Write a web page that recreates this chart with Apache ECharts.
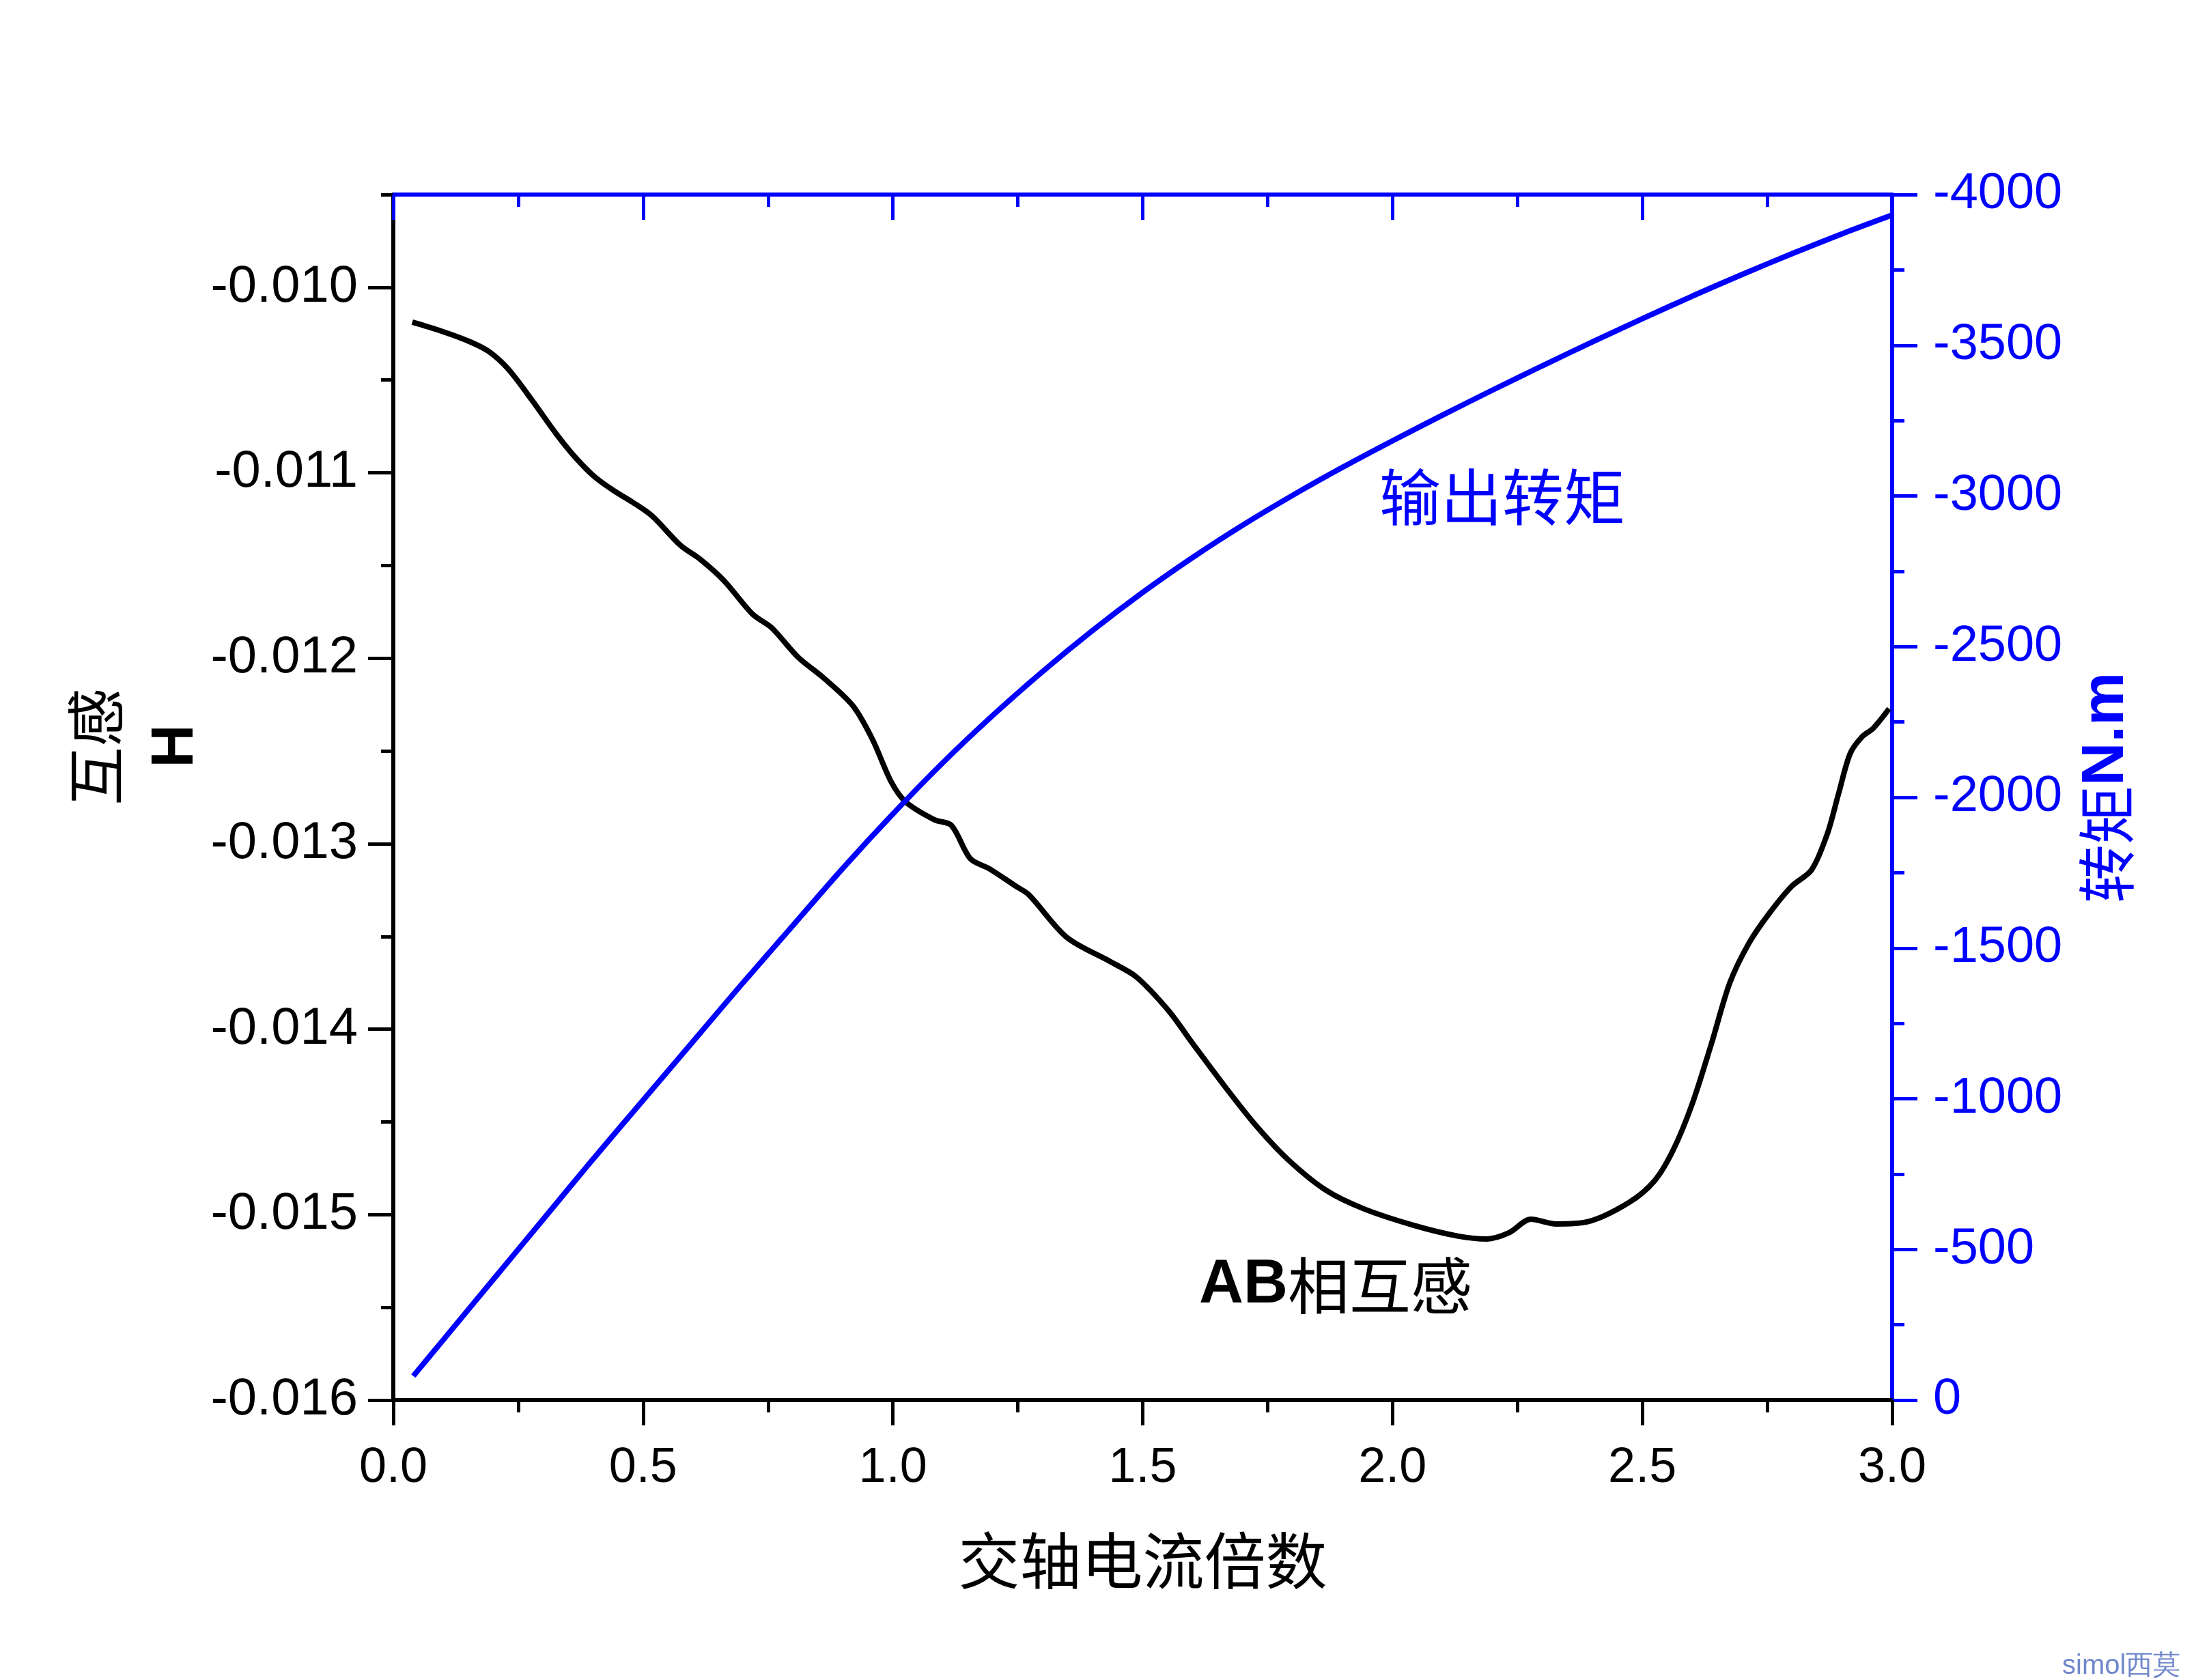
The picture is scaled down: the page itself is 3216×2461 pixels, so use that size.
<!DOCTYPE html>
<html>
<head>
<meta charset="utf-8">
<script src="https://cdn.jsdelivr.net/npm/echarts@6/dist/echarts.min.js"></script>
<style>
  html, body { margin: 0; padding: 0; background: #ffffff; }
  #chart { width: 3216px; height: 2461px; }
</style>
</head>
<body>
<div id="chart"></div>
<script>
// ---- data ----
const mutualX = [0.038, 0.096, 0.153, 0.191, 0.230, 0.278, 0.326, 0.364, 0.403, 0.441, 0.479, 0.518, 0.575, 0.614, 0.662, 0.719, 0.757, 0.810, 0.863, 0.920, 0.959, 0.997, 1.026, 1.083, 1.117, 1.155, 1.193, 1.246, 1.272, 1.348, 1.436, 1.487, 1.551, 1.601, 1.665, 1.728, 1.791, 1.867, 1.942, 2.043, 2.132, 2.189, 2.233, 2.277, 2.327, 2.391, 2.473, 2.524, 2.561, 2.599, 2.638, 2.675, 2.713, 2.752, 2.798, 2.839, 2.871, 2.893, 2.916, 2.940, 2.962, 2.994];
const mutualH = [-0.010188, -0.010236, -0.010293, -0.010346, -0.010441, -0.010610, -0.010790, -0.010916, -0.011022, -0.011096, -0.011159, -0.011233, -0.011392, -0.011466, -0.011582, -0.011762, -0.011835, -0.011994, -0.012110, -0.012257, -0.012437, -0.012669, -0.012776, -0.012871, -0.012901, -0.013081, -0.013135, -0.013229, -0.013275, -0.013505, -0.013637, -0.013718, -0.013898, -0.014081, -0.014311, -0.014524, -0.014704, -0.014869, -0.014968, -0.015058, -0.015116, -0.015131, -0.015098, -0.015025, -0.015050, -0.015038, -0.014935, -0.014819, -0.014656, -0.014409, -0.014081, -0.013751, -0.013538, -0.013383, -0.013232, -0.013140, -0.012941, -0.012728, -0.012514, -0.012423, -0.012378, -0.012272];

const torqueX = [0.04, 0.1, 0.2, 0.3, 0.4, 0.5, 0.6, 0.7, 0.8, 0.9, 1.0, 1.1, 1.2, 1.3, 1.4, 1.5, 1.6, 1.7, 1.8, 1.9, 2.0, 2.1, 2.2, 2.3, 2.4, 2.5, 2.6, 2.7, 2.8, 2.9, 3.0];
const torqueNm = [-80, -200, -400, -600, -800, -995, -1190, -1385, -1575, -1765, -1945, -2115, -2272, -2418, -2554, -2680, -2796, -2903, -3002, -3095, -3183, -3268, -3351, -3432, -3511, -3588, -3663, -3735, -3804, -3870, -3932];

const leftTicks = [-0.016, -0.015, -0.014, -0.013, -0.012, -0.011, -0.010];
const leftMinorTicks = [-0.0155, -0.0145, -0.0135, -0.0125, -0.0115, -0.0105, -0.0095];

const xTitle = '交轴电流倍数';
const leftTitleCn = '互感';
const leftTitleUnit = 'H';
const rightTitleCn = '转矩';
const rightTitleUnit = 'N.m';
const torqueLabel = '输出转矩';
const mutualLabelA = 'AB';
const mutualLabelB = '相互感';
const watermark = 'simol西莫';

// ---- chart ----
const BLUE = '#0000ff';
const BLACK = '#000000';
const NUM_FONT = '"Liberation Sans", Arial, sans-serif';
const CJK_FONT = '"Noto Sans CJK SC", sans-serif';

const chart = echarts.init(document.getElementById('chart'), null, { renderer: 'canvas' });

const mutualData = mutualX.map((x, i) => [x, mutualH[i]]);
const torqueData = torqueX.map((x, i) => [x, torqueNm[i]]);

const option = {
  backgroundColor: '#ffffff',
  animation: false,
  grid: { left: 576, right: 445, top: 285, bottom: 410, containLabel: false, outerBoundsMode: 'none' },
  xAxis: [
    {
      type: 'value', position: 'bottom', min: 0, max: 3, interval: 0.5,
      axisLine: { show: true, onZero: false, lineStyle: { color: BLACK, width: 6 } },
      axisTick: { show: true, inside: false, length: 37, lineStyle: { color: BLACK, width: 5 } },
      minorTick: { show: true, splitNumber: 2, length: 18, lineStyle: { color: BLACK, width: 5 } },
      splitLine: { show: false }, minorSplitLine: { show: false },
      axisLabel: { show: true, margin: 64, color: BLACK, fontSize: 72, fontFamily: NUM_FONT,
        formatter: v => v.toFixed(1) },
      name: xTitle, nameLocation: 'middle', nameGap: 190,
      nameTextStyle: { color: BLACK, fontSize: 90, fontFamily: CJK_FONT }
    },
    {
      type: 'value', position: 'top', min: 0, max: 3, interval: 0.5,
      axisLine: { show: true, onZero: false, lineStyle: { color: BLUE, width: 6 } },
      axisTick: { show: true, inside: true, length: 37, lineStyle: { color: BLUE, width: 5 } },
      minorTick: { show: true, splitNumber: 2, length: 18, lineStyle: { color: BLUE, width: 5 } },
      splitLine: { show: false },
      axisLabel: { show: false }
    }
  ],
  yAxis: [
    {
      type: 'value', position: 'left', min: -0.016, max: -0.0095,
      axisLine: { show: true, onZero: false, lineStyle: { color: BLACK, width: 6 } },
      axisTick: { show: true, inside: false, length: 37, customValues: leftTicks, lineStyle: { color: BLACK, width: 5 } },
      splitLine: { show: false },
      axisLabel: { show: true, customValues: leftTicks, margin: 52, color: BLACK, fontSize: 76, fontFamily: NUM_FONT,
        formatter: v => v.toFixed(3) }
    },
    {
      type: 'value', position: 'right', min: -4000, max: 0, interval: 500, inverse: true,
      axisLine: { show: true, onZero: false, lineStyle: { color: BLUE, width: 6 } },
      axisTick: { show: true, inside: false, length: 37, lineStyle: { color: BLUE, width: 5 } },
      minorTick: { show: true, splitNumber: 2, length: 18, lineStyle: { color: BLUE, width: 5 } },
      splitLine: { show: false },
      axisLabel: { show: true, margin: 60, color: BLUE, fontSize: 74, fontFamily: NUM_FONT,
        formatter: v => String(Math.round(v)) }
    },
    {
      type: 'value', position: 'left', min: -0.016, max: -0.0095,
      axisLine: { show: false },
      axisTick: { show: true, inside: false, length: 18, customValues: leftMinorTicks, lineStyle: { color: BLACK, width: 5 } },
      splitLine: { show: false },
      axisLabel: { show: false }
    }
  ],
  series: [
    {
      name: 'AB相互感', type: 'line', xAxisIndex: 0, yAxisIndex: 0,
      data: mutualData, smooth: 0.3, showSymbol: false, symbol: 'none',
      lineStyle: { color: BLACK, width: 8 }, z: 3
    },
    {
      name: '输出转矩', type: 'line', xAxisIndex: 0, yAxisIndex: 1,
      data: torqueData, smooth: 0.3, showSymbol: false, symbol: 'none',
      lineStyle: { color: BLUE, width: 8 }, z: 3
    }
  ],
  graphic: [
    { type: 'text', x: 140, y: 1094, rotation: Math.PI / 2,
      style: { text: leftTitleCn, fill: BLACK, fontSize: 86, fontFamily: CJK_FONT, align: 'center', verticalAlign: 'middle' } },
    { type: 'text', x: 258, y: 1093, rotation: Math.PI / 2,
      style: { text: leftTitleUnit, fill: BLACK, fontSize: 88, fontWeight: 'bold', fontFamily: NUM_FONT, align: 'center', verticalAlign: 'middle' } },
    { type: 'text', x: 3085, y: 1154, rotation: Math.PI / 2,
      style: { text: '{a|' + rightTitleCn + '}{b|' + rightTitleUnit + '}', align: 'center', verticalAlign: 'middle',
        rich: {
          a: { fill: BLUE, fontSize: 86, fontFamily: CJK_FONT },
          b: { fill: BLUE, fontSize: 88, fontWeight: 'bold', fontFamily: NUM_FONT }
        } } },
    { type: 'text', x: 2020, y: 728,
      style: { text: torqueLabel, fill: BLUE, fontSize: 90, fontFamily: CJK_FONT, align: 'left', verticalAlign: 'middle' } },
    { type: 'text', x: 1756, y: 1883,
      style: { text: '{a|' + mutualLabelA + '}{b|' + mutualLabelB + '}', align: 'left', verticalAlign: 'middle',
        rich: {
          a: { fill: BLACK, fontSize: 90, fontWeight: 'bold', fontFamily: NUM_FONT },
          b: { fill: BLACK, fontSize: 90, fontFamily: CJK_FONT }
        } } },
    { type: 'text', x: 3020, y: 2441,
      style: { text: watermark, fill: '#7088cc', fontSize: 40, fontFamily: NUM_FONT, align: 'left', verticalAlign: 'middle' } }
  ]
};

chart.setOption(option);
</script>
</body>
</html>
